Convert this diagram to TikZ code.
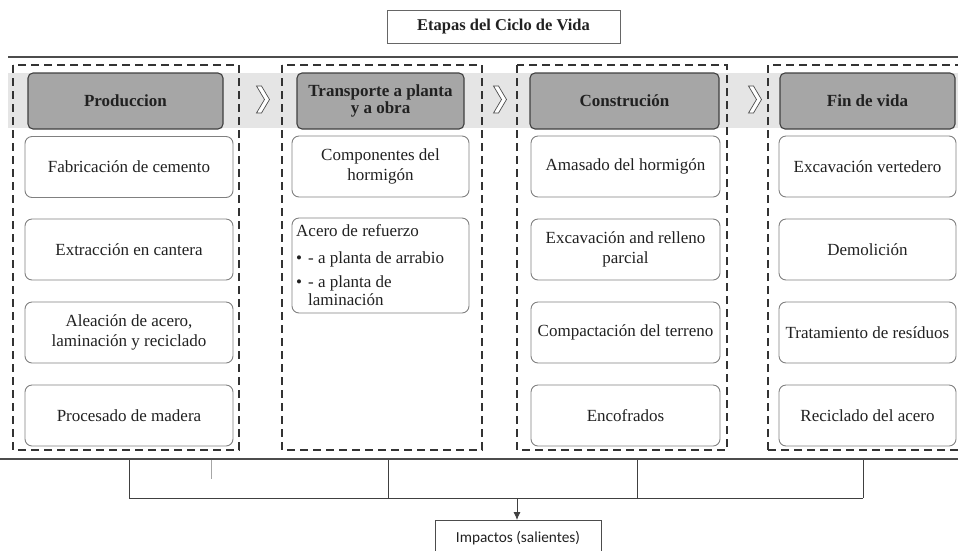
\documentclass[tikz,border=0pt]{standalone}
\usepackage{fontspec}
\usetikzlibrary{arrows.meta}
\setmainfont{Liberation Serif}
\newfontfamily\calfont{Carlito}
\begin{document}
\begin{tikzpicture}[x=1pt,y=-1pt,
  txt/.style={text=black!87},
  stagebox/.style={draw=black!75, line width=1.1pt, fill=black!35, rounded corners=5pt,
    minimum height=56pt, align=center, font=\fontsize{17}{18}\selectfont\bfseries, txt, inner sep=2pt},
  itembox/.style={draw=black!50, line width=0.9pt, fill=white, rounded corners=7pt,
    minimum height=61pt, align=center, font=\fontsize{17}{20}\selectfont, txt, inner sep=2pt},
  dashbox/.style={draw=black!80, line width=1.3pt, dash pattern=on 8pt off 5pt},
  bigline/.style={draw=black!70, line width=1.8pt},
  wire/.style={draw=black!75, line width=0.8pt},
  chev/.style={draw=black!70, line width=0.7pt, fill=white},
]
\useasboundingbox (0,0) rectangle (958,550);
\clip (0,0) rectangle (958,550);

% title
\node[draw=black!60, line width=0.9pt, minimum width=233pt, minimum height=33pt, inner sep=0pt,
  font=\fontsize{16.5}{18}\selectfont\bfseries, txt] (title) at (503.5,26.5) {Etapas del Ciclo de Vida};

% top line and gray band
\coordinate (tlL) at (8,57);
\coordinate (tlR) at (960,57);
\draw[bigline] (tlL) -- (tlR);
\fill[black!10] (8,73) rectangle (960,128);

% dashed columns
\draw[dashbox] (13,65) rectangle (239,450);
\draw[dashbox] (282,65) rectangle (482,450);
\draw[dashbox] (517,65) rectangle (727,450);
\draw[dashbox] (768,450) -- (768,65) -- (962,65);
\draw[dashbox] (768,450) -- (962,450);

% chevrons
\foreach \cx [count=\i] in {263,500,755}{
  \draw[chev] (\cx-6.5,86) -- (\cx-1.5,86) -- (\cx+6.5,99.5) -- (\cx-1.5,113) -- (\cx-6.5,113) -- (\cx+1.5,99.5) -- cycle;
}

% headers
\node[stagebox, minimum width=195pt] (h1) at (125.5,101) {Produccion};
\node[stagebox, minimum width=167pt] (h2) at (380.5,101) {Transporte a planta\\[-1pt]y a obra};
\node[stagebox, minimum width=189pt] (h3) at (624.5,101) {Construción};
\node[stagebox, minimum width=175pt] (h4) at (867.5,101) {Fin de vida};

% column 1
\node[itembox, minimum width=208pt] (a1) at (129,167) {Fabricación de cemento};
\node[itembox, minimum width=208pt] (a2) at (129,249.5) {Extracción en cantera};
\node[itembox, minimum width=208pt] (a3) at (129,332.5) {Aleación de acero,\\laminación y reciclado};
\node[itembox, minimum width=208pt] (a4) at (129,415.5) {Procesado de madera};

% column 2
\node[itembox, minimum width=177pt] (b1) at (380.5,166.5) {Componentes del\\hormigón};
\node[itembox, minimum width=177pt, minimum height=95pt] (b2) at (380.5,265.5) {};
\node[anchor=north west, inner sep=0pt, font=\fontsize{17}{18}\selectfont, txt] (b2t) at (296,224)
  {\begin{tabular}{@{}l@{\hspace{6pt}}l@{}}
   \multicolumn{2}{@{}l@{}}{Acero de refuerzo}\\[9pt]
   \textbullet & - a planta de arrabio\\[6pt]
   \textbullet & - a planta de\\[0pt]
   & laminación
   \end{tabular}};

% column 3
\node[itembox, minimum width=189pt] (c1) at (625.5,166.5) {Amasado del hormigón};
\node[itembox, minimum width=189pt] (c2) at (625.5,249.5) {Excavación and relleno\\parcial};
\node[itembox, minimum width=189pt] (c3) at (625.5,332.5) {Compactación del terreno};
\node[itembox, minimum width=189pt] (c4) at (625.5,415.5) {Encofrados};

% column 4
\node[itembox, minimum width=177pt] (d1) at (867.5,166.5) {Excavación vertedero};
\node[itembox, minimum width=177pt] (d2) at (867.5,249.5) {Demolición};
\node[itembox, minimum width=177pt] (d3) at (867.5,332.5) {Tratamiento de resíduos};
\node[itembox, minimum width=177pt] (d4) at (867.5,415.5) {Reciclado del acero};

% bottom line
\coordinate (blL) at (-2,459);
\coordinate (blR) at (960,459);
\draw[bigline] (blL) -- (blR);

% bus
\foreach \n/\xx in {p1/129,p2/388,p3/637,p4/863}{
  \coordinate (\n t) at (\xx,460);
  \coordinate (\n b) at (\xx,498);
}
\coordinate (stub t) at (211,460);
\coordinate (stub b) at (211,479);
\coordinate (busmid) at (517,498);
\draw[wire] (p1t) -- (p1b);
\draw[wire] (p2t) -- (p2b);
\draw[wire] (p3t) -- (p3b);
\draw[wire] (p4t) -- (p4b);
\draw[wire] (p1b) -- (p4b);
\draw[draw=black!35, line width=0.6pt] (stub t) -- (stub b);

\node[draw=black!70, line width=0.8pt, minimum width=166pt, minimum height=36pt, anchor=north,
  font=\calfont\fontsize{15.3}{17}\selectfont, txt, inner sep=0pt] (imp) at (518,520) {Impactos (salientes)};
\draw[wire, -{Latex[length=8pt,width=7pt]}] (busmid) -- (imp.north -| busmid);
\end{tikzpicture}
\end{document}
